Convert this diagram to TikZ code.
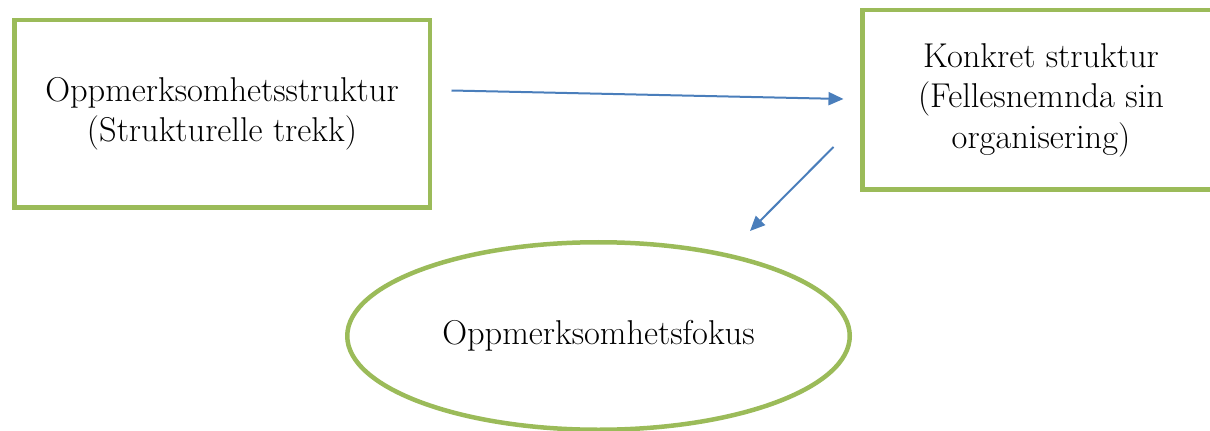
\documentclass[tikz,border=0pt]{standalone}
\usetikzlibrary{shapes.geometric,arrows.meta}
\definecolor{boxgreen}{HTML}{9BBB59}
\definecolor{arrowblue}{HTML}{4A7EBB}
\begin{document}
\begin{tikzpicture}[
		box/.style={draw=boxgreen, line width=0.09cm, align=center, inner sep=0pt, font=\fontsize{19.6}{23}\selectfont},
		pil/.style={arrowblue, line width=0.04cm, -{Triangle[length=0.3cm, width=0.26cm]}}]
		\clip (0,0) rectangle (24.2,8.6);
		\node[box, minimum width=8.31cm, minimum height=3.75cm] (struktur) at (4.44,6.32) {Oppmerksomhetsstruktur\\(Strukturelle trekk)};
		\node[box, minimum width=7.15cm, minimum height=3.59cm] (konkret) at (20.82,6.6) {Konkret struktur\\(Fellesnemnda sin\\organisering)};
		\node[box, ellipse, minimum width=10.05cm, minimum height=3.75cm] (fokus) at (11.97,1.88) {Oppmerksomhetsfokus};
		\coordinate (a1) at ([shift={(0.39,0.47)}]struktur.east);
		\coordinate (b1) at ([shift={(-0.33,0.02)}]konkret.west);
		\coordinate (a2) at ([shift={(-0.53,-0.94)}]konkret.west);
		\coordinate (b2) at ([shift={(3.03,0.18)}]fokus.north);
		\draw[pil] (a1) -- (b1);
		\draw[pil] (a2) -- (b2);
	\end{tikzpicture}
\end{document}
